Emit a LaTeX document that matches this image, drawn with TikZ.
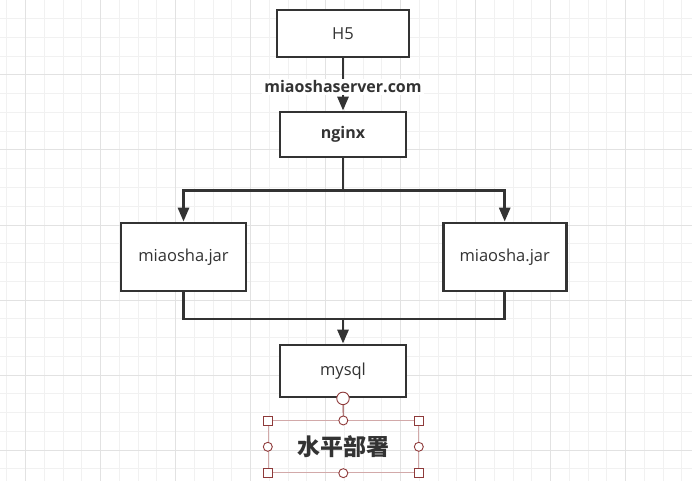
\documentclass[tikz,border=0pt]{standalone}
\usepackage{xcolor}
\usepackage{fontspec}
\setmainfont{Open Sans}
\newfontfamily\cjk{Noto Sans CJK SC}
\usetikzlibrary{arrows.meta}

\definecolor{ink}{HTML}{333333}
\definecolor{gridminor}{HTML}{F1F1F1}
\definecolor{gridmajor}{HTML}{E2E2E2}
\definecolor{handle}{HTML}{8E3A3A}
\definecolor{selline}{HTML}{D2A9A9}

\tikzset{
  box/.style={draw=ink, line width=2.8pt, fill=white, text=ink,
    font=\fontsize{16.5}{19}\selectfont},
  conn/.style={draw=ink, line width=2.8pt},
  tip/.style={-{Triangle[length=14pt,width=11pt]}},
  sqhandle/.style={draw=handle, fill=white, line width=0.9pt,
    minimum size=9pt, inner sep=0pt},
  cihandle/.style={draw=handle, fill=white, line width=0.9pt, circle,
    minimum size=9pt, inner sep=0pt},
}

\begin{document}
\begin{tikzpicture}[x=1pt,y=-1pt]
\useasboundingbox (0,0) rectangle (692,481);
\fill[white] (0,0) rectangle (692,481);
% grid
\foreach \i in {0,...,36}
  \draw[gridminor, line width=1pt] (6.75+18.75*\i,0) -- (6.75+18.75*\i,481);
\foreach \j in {0,...,25}
  \draw[gridminor, line width=1pt] (0,18.75*\j) -- (692,18.75*\j);
\foreach \i in {0,...,8}
  \draw[gridmajor, line width=1pt] (25.5+75*\i,0) -- (25.5+75*\i,481);
\foreach \j in {0,...,6}
  \draw[gridmajor, line width=1pt] (0,75*\j) -- (692,75*\j);

% boxes
\node[box, minimum width=132pt, minimum height=47pt] (h5) at (343,33.5) {H5};
\node[box, minimum width=126pt, minimum height=45pt, font=\fontsize{16}{19}\selectfont\bfseries] (nginx) at (343,134.5) {nginx};
\node[box, minimum width=125pt, minimum height=68pt] (jarL) at (183.5,257) {miaosha.jar};
\node[box, minimum width=123pt, minimum height=68pt] (jarR) at (504.7,257) {miaosha.jar};
\node[box, minimum width=126pt, minimum height=52pt] (mysql) at (343,371) {mysql};

\coordinate (fork) at (343,190.7);
\coordinate (join) at (343,319);

% connectors
\draw[conn, tip] (h5) -- (nginx);
\node[fill=white, text=ink, inner sep=2pt, font=\fontsize{16}{19}\selectfont\bfseries] (domain) at (343,86.7) {miaoshaserver.com};
\draw[conn] (nginx) -- (fork);
\draw[conn, tip] (fork) -| (jarL);
\draw[conn, tip] (fork) -| (jarR);
\draw[conn] (jarL) |- (join);
\draw[conn] (jarR) |- (join);
\draw[conn, tip] (join) -- (mysql);

% selected text
\node[draw=selline, line width=1pt, minimum width=150pt, minimum height=51.7pt, text=ink,
  font=\cjk\bfseries\fontsize{23}{27}\selectfont] (title) at (343.3,446.8) {水平部署};
\node[cihandle, minimum size=12.5pt] (rot) at (mysql.south) {};
\draw[handle, line width=0.9pt] (rot) -- (title.north);
\foreach \a in {north west, north east, south west, south east}
  \node[sqhandle] at (title.\a) {};
\foreach \a in {north, south, west, east}
  \node[cihandle] at (title.\a) {};
\end{tikzpicture}
\end{document}
